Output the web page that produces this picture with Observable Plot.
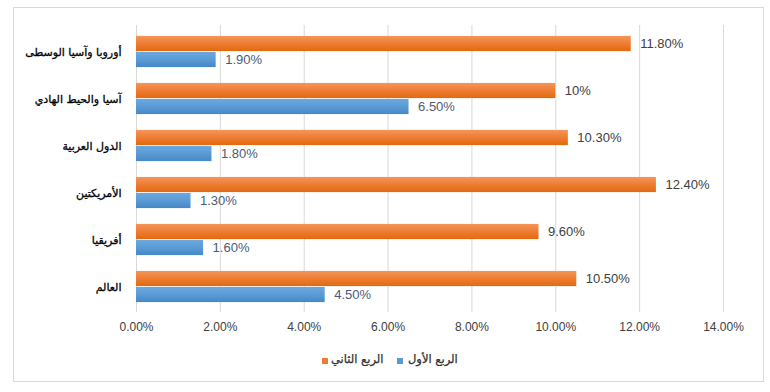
<!DOCTYPE html>
<html>
<head>
<meta charset="utf-8">
<script src="https://cdn.jsdelivr.net/npm/d3@7"></script>
<script src="https://cdn.jsdelivr.net/npm/@observablehq/plot@0.6"></script>
<style>
  html, body { margin: 0; padding: 0; background: #fff; }
  #wrap { position: relative; width: 770px; height: 392px; overflow: hidden; }
  #frame { position: absolute; left: 13px; top: 7px; width: 751px; height: 375px; border: 1px solid #d9d9d9; box-sizing: border-box; }
  #chart { position: absolute; left: 0; top: 0; }
  .leg { position: absolute; top: 352px; font-family: "DejaVu Sans", sans-serif; font-size: 11.5px; color: #303030; white-space: nowrap; -webkit-text-stroke: 0.25px #303030; }
  .sw { position: absolute; top: 358px; width: 6px; height: 6px; }
  g[aria-label="y-axis tick label"] text { stroke: #000; stroke-width: 0.3px; }
</style>
</head>
<body>
<div id="wrap">
  <div id="frame"></div>
  <div id="chart"></div>
  <div class="sw" style="left:322px;background:#ED7D31"></div>
  <div class="leg" id="leg2" style="left:331px" dir="rtl"></div>
  <div class="sw" style="left:397px;background:#5B9BD5"></div>
  <div class="leg" id="leg1" style="left:408px" dir="rtl"></div>
</div>
<script>
const categories = ["أوروبا وآسيا الوسطى", "آسيا والحيط الهادي", "الدول العربية", "الأمريكتين", "أفريقيا", "العالم"];
const seriesNames = ["الربع الثاني", "الربع الأول"];
const q2Values = [11.8, 10, 10.3, 12.4, 9.6, 10.5];
const q1Values = [1.9, 6.5, 1.8, 1.3, 1.6, 4.5];
const q2Labels = ["11.80%", "10%", "10.30%", "12.40%", "9.60%", "10.50%"];
const q1Labels = ["1.90%", "6.50%", "1.80%", "1.30%", "1.60%", "4.50%"];
const xTicks = [0, 2, 4, 6, 8, 10, 12, 14];
const xTickLabels = ["0.00%", "2.00%", "4.00%", "6.00%", "8.00%", "10.00%", "12.00%", "14.00%"];

const q2 = categories.map((c, i) => ({cat: c, v: q2Values[i], label: q2Labels[i]}));
const q1 = categories.map((c, i) => ({cat: c, v: q1Values[i], label: q1Labels[i]}));

const H = 345, mTop = 25, mBottom = 33;
const step = (H - mTop - mBottom) / categories.length;
const barH = 16;
const groupOff = (step - 2 * barH) / 2;

const chart = Plot.plot({
  width: 770,
  height: H,
  marginLeft: 136,
  marginRight: 47,
  marginTop: mTop,
  marginBottom: mBottom,
  style: {fontFamily: "Liberation Sans, sans-serif", background: "transparent"},
  x: {domain: [0, 14], ticks: xTicks, label: null},
  y: {domain: categories, padding: 0, label: null},
  marks: [
    Plot.gridX(xTicks, {stroke: "#d9d9d9", strokeOpacity: 1}),
    Plot.barX(q2, {x: "v", y: "cat", fill: "url(#gO)", insetTop: groupOff, insetBottom: step - groupOff - barH}),
    Plot.barX(q1, {x: "v", y: "cat", fill: "url(#gB)", insetTop: groupOff + barH, insetBottom: groupOff}),
    Plot.text(q2, {x: "v", y: "cat", text: "label", dy: -barH / 2, dx: 9, textAnchor: "start", fill: "#404040", fontSize: 13}),
    Plot.text(q1, {x: "v", y: "cat", text: "label", dy: barH / 2, dx: 9, textAnchor: "start", fill: "#4b5a78", fontSize: 13}),
    Plot.axisX({ticks: xTicks, tickFormat: d => xTickLabels[xTicks.indexOf(d)], tickSize: 0, tickPadding: 10, fontSize: 12, fill: "#404040", label: null}),
    Plot.axisY({tickSize: 0, tickPadding: 15, fontSize: 11, fontFamily: "DejaVu Sans, sans-serif", fill: "#000", label: null})
  ]
});

const ns = "http://www.w3.org/2000/svg";
const defs = document.createElementNS(ns, "defs");
defs.innerHTML = `
<linearGradient id="gO" x1="0" y1="0" x2="0" y2="1">
  <stop offset="0" stop-color="#F4955A"/><stop offset="0.5" stop-color="#EE7D33"/><stop offset="1" stop-color="#E2690F"/>
</linearGradient>
<linearGradient id="gB" x1="0" y1="0" x2="0" y2="1">
  <stop offset="0" stop-color="#6AA8E0"/><stop offset="0.5" stop-color="#5B9BD5"/><stop offset="1" stop-color="#4588C8"/>
</linearGradient>`;
chart.insertBefore(defs, chart.firstChild);
document.getElementById("chart").appendChild(chart);
document.getElementById("leg2").textContent = seriesNames[0];
document.getElementById("leg1").textContent = seriesNames[1];
</script>
</body>
</html>
